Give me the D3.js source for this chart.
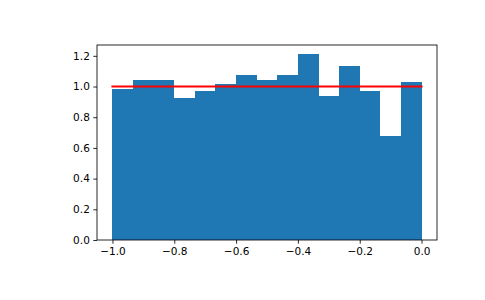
<!DOCTYPE html>
<html>
<head>
<meta charset="utf-8">
<script src="https://cdn.jsdelivr.net/npm/d3@7"></script>
<style>
  body { margin: 0; background: #fff; }
  svg text { font-family: "DejaVu Sans", sans-serif; font-size: 10.5px; fill: #000; }
</style>
</head>
<body>
<div id="chart"></div>
<script>
'use strict';

// Histogram bin edges (15 bins from -1 to 0) and density heights
const binEdges = [-1, -14/15, -13/15, -12/15, -11/15, -10/15, -9/15, -8/15, -7/15, -6/15, -5/15, -4/15, -3/15, -2/15, -1/15, 0];
const densities = [0.984, 1.040, 1.040, 0.924, 0.969, 1.017, 1.076, 1.040, 1.076, 1.210, 0.937, 1.132, 0.969, 0.677, 1.028];
// Reference line y = 1 across the range
const refLineX = [-1, 0];
const refLineY = [1, 1];
const xTicks = [-1.0, -0.8, -0.6, -0.4, -0.2, 0.0];
const yTicks = [0.0, 0.2, 0.4, 0.6, 0.8, 1.0, 1.2];


// Layout of the axes box inside the 485x300 figure
const width = 485;
const height = 300;
const margin = { top: 45, right: 48, bottom: 60, left: 97 };
const innerW = width - margin.left - margin.right;
const innerH = height - margin.top - margin.bottom;

const svg = d3.select('#chart').append('svg')
  .attr('width', width)
  .attr('height', height);

const g = svg.append('g')
  .attr('transform', `translate(${margin.left}, ${margin.top})`);

// Scales with matplotlib-like 5% padding on x
const xMin = -1, xMax = 0;
const pad = (xMax - xMin) * 0.05;
const x = d3.scaleLinear().domain([xMin - pad, xMax + pad]).range([0, innerW]);
const y = d3.scaleLinear().domain([0, 1.2705]).range([innerH, 0]);

// Bars - snapped to whole pixels so neighbouring bins don't show seams
g.selectAll('.bar')
  .data(densities)
  .enter().append('rect')
  .attr('class', 'bar')
  .attr('x', (d, i) => Math.round(x(binEdges[i])))
  .attr('width', (d, i) => Math.round(x(binEdges[i + 1])) - Math.round(x(binEdges[i])))
  .attr('y', d => Math.round(y(d)))
  .attr('height', d => y(0) - Math.round(y(d)))
  .attr('shape-rendering', 'crispEdges')
  .style('fill', '#1f77b4');

// Red reference line
const line = d3.line()
  .x(d => x(d[0]))
  .y(d => y(d[1]));
g.append('path')
  .datum(refLineX.map((v, i) => [v, refLineY[i]]))
  .attr('d', line)
  .style('fill', 'none')
  .style('stroke', '#ff0000')
  .style('stroke-width', 2.1)
  .style('stroke-linecap', 'square');

// Axes
const fmt = d => d3.format('.1f')(d).replace('-', '\u2212');
const xAxis = g.append('g')
  .attr('transform', `translate(0, ${innerH})`)
  .call(d3.axisBottom(x).tickValues(xTicks).tickFormat(fmt).tickSizeOuter(0).tickSize(3.7).tickPadding(3.5));
const yAxis = g.append('g')
  .call(d3.axisLeft(y).tickValues(yTicks).tickFormat(fmt).tickSizeOuter(0).tickSize(3.7).tickPadding(3.5));

[xAxis, yAxis].forEach(a => {
  a.select('.domain').remove();
  a.selectAll('line').style('stroke', '#000').style('stroke-width', 0.84);
  a.selectAll('text').style('font-family', '"DejaVu Sans", sans-serif').style('font-size', '10.5px').style('fill', '#000');
});

// Spines
g.append('rect')
  .attr('x', 0)
  .attr('y', 0)
  .attr('width', innerW)
  .attr('height', innerH)
  .style('fill', 'none')
  .style('stroke', '#000')
  .style('stroke-width', 0.84);
</script>
</body>
</html>
